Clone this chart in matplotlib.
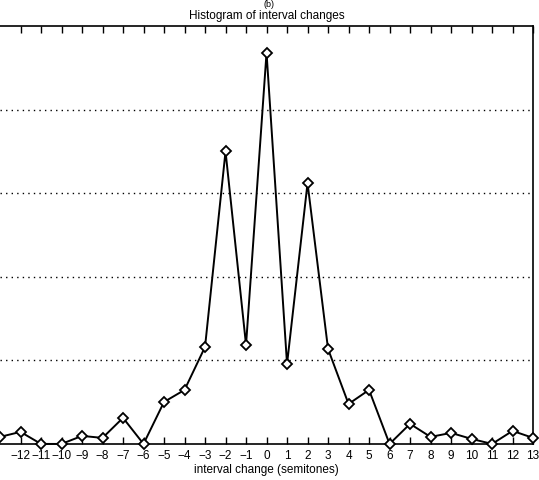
import numpy as np
import matplotlib.pyplot as plt

plt.rcParams['font.family'] = ['Liberation Sans', 'DejaVu Sans']

intervals = np.arange(-13, 14)
# relative frequency (%) of each interval change
freq = [0.42, 0.72, 0.0, 0.0, 0.48, 0.36, 1.56, 0.0, 2.51, 3.23, 5.80, 17.5, 5.92,
        23.4, 4.78, 15.6, 5.68, 2.39, 3.23, 0.0, 1.20, 0.42, 0.66, 0.30, 0.0, 0.78, 0.36]
tick_vals = np.arange(-12, 14)

fig = plt.figure(figsize=(5.39, 4.81), dpi=100)
ax = fig.add_axes([0.0, 0.075, 0.989, 0.869])

ax.plot(intervals, freq, color='black', lw=1.4, marker='D', markersize=5.5,
        markerfacecolor='white', markeredgecolor='black', markeredgewidth=1.3,
        clip_on=False, zorder=3)

ax.set_xlim(-13, 13)
ax.set_ylim(0, 25)
ax.set_xticks(tick_vals)
ax.set_xticklabels([str(v).replace('-', '\u2212') for v in tick_vals], fontsize=8.5)
ax.set_yticks([5, 10, 15, 20])
ax.tick_params(axis='y', length=0, labelleft=False)
ax.tick_params(axis='x', direction='in', length=5, width=1, top=True, pad=4)
ax.yaxis.grid(True, linestyle=(0, (1, 3)), color='black', lw=1)
for s in ax.spines.values():
    s.set_linewidth(1.2)
ax.spines['left'].set_visible(False)

ax.set_xlabel('interval change (semitones)', fontsize=8.5, labelpad=1)
ax.set_title('Histogram of interval changes', fontsize=8.5, pad=6)
fig.text(0.5, 0.999, '(b)', ha='center', va='top', fontsize=6.5)

fig.savefig('out.png', dpi=100)
